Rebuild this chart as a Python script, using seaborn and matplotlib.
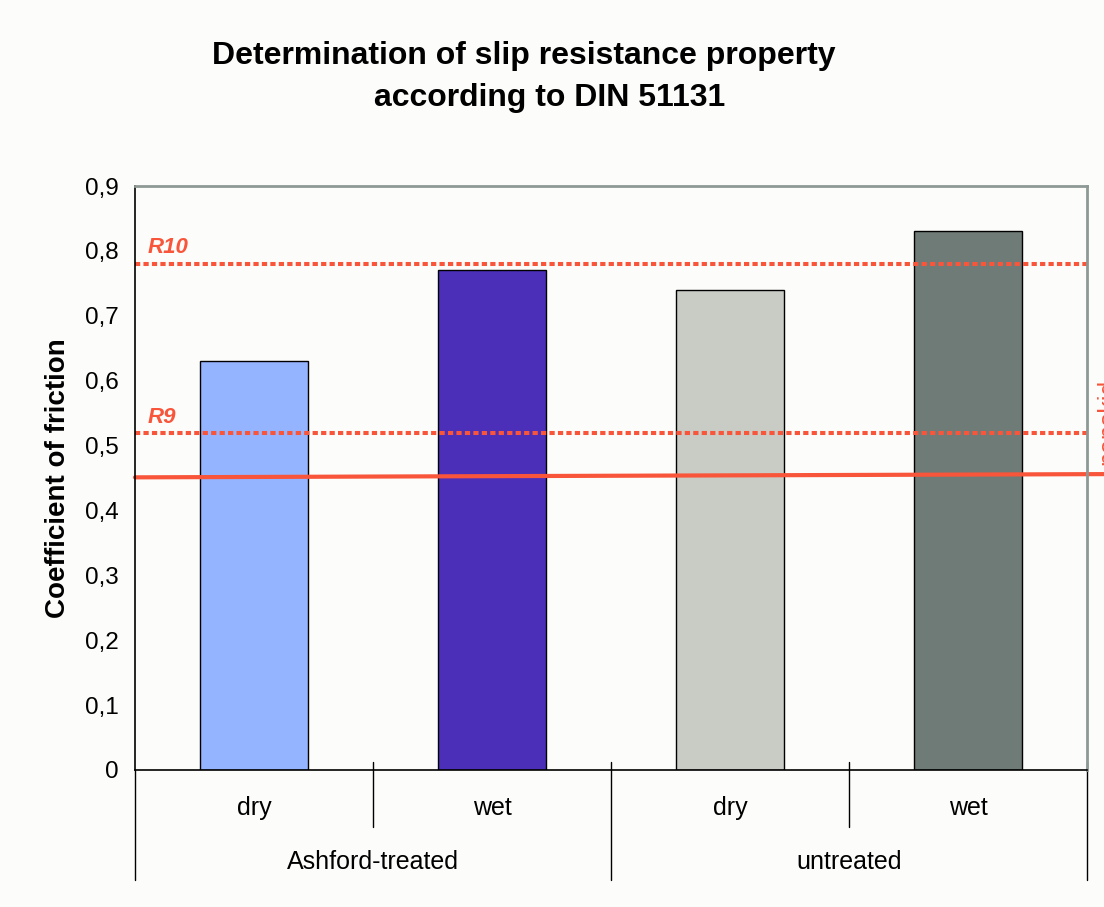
import matplotlib
matplotlib.use("Agg")
import matplotlib.pyplot as plt
import matplotlib.transforms as mtransforms
import seaborn as sns
import pandas as pd

# data
groups = ["Ashford-treated", "Ashford-treated", "untreated", "untreated"]
conditions = ["dry", "wet", "dry", "wet"]
friction = [0.63, 0.77, 0.74, 0.83]
bar_colors = ["#95B4FF", "#4B2FB9", "#C9CBC5", "#6F7B77"]
group_names = ["Ashford-treated", "untreated"]
r10_level = 0.78
r9_level = 0.52
nonskid_level = [0.451, 0.456]
yticks = [0, 0.1, 0.2, 0.3, 0.4, 0.5, 0.6, 0.7, 0.8, 0.9]

sns.set_style("white")
plt.rcParams["font.family"] = ["Liberation Sans", "DejaVu Sans"]
plt.rcParams.update({"text.color": "black", "axes.labelcolor": "black",
                     "xtick.color": "black", "ytick.color": "black"})

bg = "#FCFCFA"
red = "#F8553A"

df = pd.DataFrame({"group": groups, "cond": conditions, "value": friction})
df["key"] = df["group"] + " " + df["cond"]

fig = plt.figure(figsize=(11.04, 9.07), dpi=100, facecolor=bg)
ax = fig.add_axes([135 / 1104, 1 - 770 / 907, (1087 - 135) / 1104, (770 - 186) / 907])
ax.set_facecolor(bg)

sns.barplot(data=df, x="key", y="value", hue="key", palette=bar_colors, saturation=1,
            width=0.45, edgecolor="black", linewidth=1, legend=False, ax=ax)

ax.set_xlim(-0.5, 3.5)
ax.set_ylim(0, 0.9)
ax.set_yticks(yticks)
ax.set_yticklabels([("%g" % v).replace(".", ",") for v in yticks], fontsize=17.5)
ax.tick_params(axis="y", direction="inout", length=12, width=1.2, color="black", pad=6)
ax.set_xticks([])
ax.set_xlabel("")
ax.set_ylabel("Coefficient of friction", fontsize=20, fontweight="bold", labelpad=10)

for side in ["left", "bottom"]:
    ax.spines[side].set_color("black")
    ax.spines[side].set_linewidth(1.2)
for side in ["top", "right"]:
    ax.spines[side].set_color("#8E9995")
    ax.spines[side].set_linewidth(2)

# reference levels
ax.axhline(r10_level, color=red, lw=2.9, ls=(0, (1.3, 0.8)))
ax.axhline(r9_level, color=red, lw=2.9, ls=(0, (1.3, 0.8)))
ax.text(-0.445, r10_level + 0.017, "R10", color=red, fontsize=16,
        fontweight="bold", fontstyle="italic")
ax.text(-0.445, r9_level + 0.015, "R9", color=red, fontsize=16,
        fontweight="bold", fontstyle="italic")
ax.plot([-0.5, 3.58], nonskid_level, color=red, lw=3, clip_on=False)
ax.text(3.54, 0.536, "nonskid", color=red, fontsize=18, rotation=90,
        ha="left", va="center", clip_on=False)

# two-level category axis
trans = mtransforms.blended_transform_factory(ax.transData, ax.transAxes)
for i, c in enumerate(conditions):
    ax.text(i, -0.065, c, transform=trans, ha="center", va="center", fontsize=18)
for j, g in enumerate(group_names):
    ax.text(2 * j + 0.5, -0.158, g, transform=trans, ha="center", va="center", fontsize=18)
for x in [0.5, 2.5]:
    ax.plot([x, x], [0.014, -0.098], transform=trans, color="black", lw=1, clip_on=False)
for x in [-0.5, 1.5, 3.5]:
    top = 0.0 if x == -0.5 else 0.014
    ax.plot([x, x], [top, -0.188], transform=trans, color="black", lw=1, clip_on=False)

fig.text(524 / 1104, 1 - 56 / 907, "Determination of slip resistance property",
         ha="center", va="center", fontsize=23, fontweight="bold")
fig.text(550 / 1104, 1 - 98 / 907, "according to DIN 51131",
         ha="center", va="center", fontsize=23, fontweight="bold")

fig.savefig("out.png", dpi=100, facecolor=bg)
